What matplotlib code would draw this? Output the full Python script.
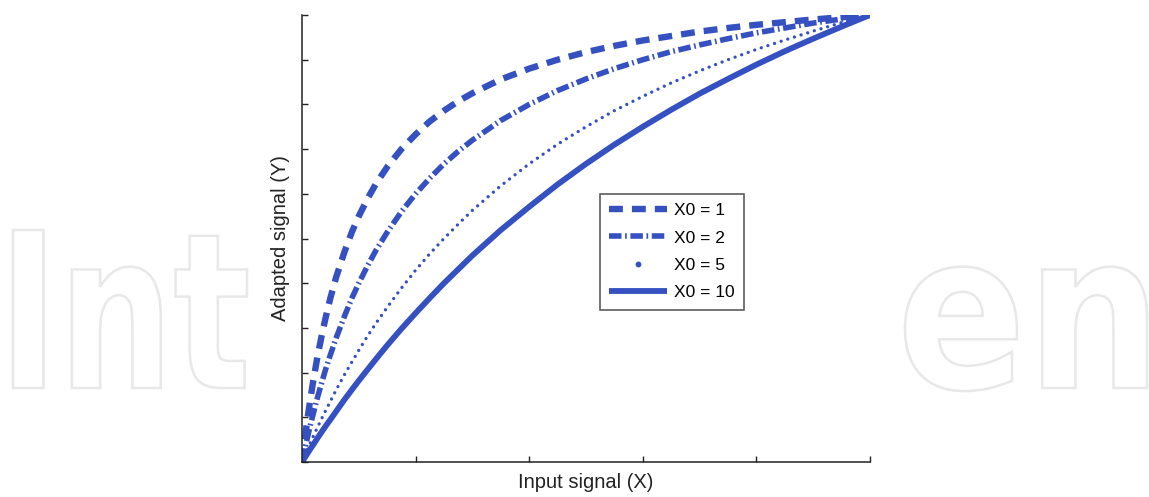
import matplotlib
matplotlib.use("Agg")
import matplotlib.pyplot as plt
from matplotlib.textpath import TextPath
from matplotlib.patches import PathPatch
from matplotlib.font_manager import FontProperties
from matplotlib.transforms import Affine2D
from matplotlib.lines import Line2D

plt.rcParams['font.family'] = ['Liberation Sans', 'DejaVu Sans']
plt.rcParams['lines.scale_dashes'] = False

# Values (X axis 0..10, Y normalised 0..1)
x_vals = [0, 0.03, 0.06, 0.1, 0.15, 0.2, 0.27, 0.35, 0.42, 0.5, 0.6, 0.75, 0.88, 1, 1.15,
          1.3, 1.5, 1.75, 2, 2.25, 2.5, 2.75, 3, 3.5, 4, 4.5, 5, 5.5, 6, 6.5, 7, 7.5, 8, 8.5,
          9, 9.5, 10]
y_x0_1 = [0, 0.032, 0.062, 0.100, 0.143, 0.183, 0.234, 0.285, 0.325, 0.367, 0.413, 0.471,
          0.515, 0.550, 0.588, 0.622, 0.660, 0.700, 0.733, 0.762, 0.786, 0.807, 0.825, 0.856,
          0.880, 0.900, 0.917, 0.931, 0.943, 0.953, 0.963, 0.971, 0.978, 0.984, 0.990, 0.995, 1.0]
y_x0_2 = [0, 0.018, 0.035, 0.057, 0.084, 0.109, 0.143, 0.179, 0.209, 0.240, 0.277, 0.327,
          0.367, 0.400, 0.438, 0.473, 0.514, 0.560, 0.600, 0.635, 0.667, 0.695, 0.720, 0.764,
          0.800, 0.831, 0.857, 0.880, 0.900, 0.918, 0.933, 0.947, 0.960, 0.971, 0.982, 0.991, 1.0]
y_x0_5 = [0, 0.009, 0.018, 0.029, 0.044, 0.058, 0.077, 0.098, 0.116, 0.136, 0.161, 0.196,
          0.224, 0.250, 0.281, 0.310, 0.346, 0.389, 0.429, 0.466, 0.500, 0.532, 0.563, 0.618,
          0.667, 0.711, 0.750, 0.786, 0.818, 0.848, 0.875, 0.900, 0.923, 0.944, 0.964, 0.983, 1.0]
y_x0_10 = [0, 0.006, 0.012, 0.020, 0.030, 0.039, 0.053, 0.068, 0.081, 0.095, 0.113, 0.140,
           0.162, 0.182, 0.206, 0.230, 0.261, 0.298, 0.333, 0.367, 0.400, 0.431, 0.462, 0.519,
           0.571, 0.621, 0.667, 0.710, 0.750, 0.788, 0.824, 0.857, 0.889, 0.919, 0.947, 0.974, 1.0]
labels = ["X0 = 1", "X0 = 2", "X0 = 5", "X0 = 10"]
watermark_left = "Int"
watermark_right = "en"

W, H = 1149, 497
fig = plt.figure(figsize=(W / 100, H / 100), dpi=100)
fig.patch.set_facecolor('white')

# Watermark outline text behind the chart
fp = FontProperties(family='DejaVu Sans', weight='bold')
wm_col = '#e8e8e8'
tp1 = TextPath((0, 0), watermark_left, size=1, prop=fp)
ext1 = tp1.get_extents()
sy = (158 / H) / ext1.y1
sx1 = (234 / W) / ext1.width
base = (H - 388) / H
t1 = Affine2D().translate(-ext1.x0, 0).scale(sx1, sy).translate(13 / W, base) + fig.transFigure
fig.add_artist(PathPatch(tp1, transform=t1, facecolor='white', edgecolor=wm_col, lw=1.8, zorder=0))
tp2 = TextPath((0, 0), watermark_right, size=1, prop=fp)
ext2 = tp2.get_extents()
sx2 = (242 / W) / ext2.width
t2 = Affine2D().translate(-ext2.x1, 0).scale(sx2, sy).translate(1147 / W, base) + fig.transFigure
fig.add_artist(PathPatch(tp2, transform=t2, facecolor='white', edgecolor=wm_col, lw=1.8, zorder=0))

ax = fig.add_axes([302 / W, 35 / H, 568 / W, 447 / H])
ax.set_facecolor('none')
color = '#3550c0'

l1, = ax.plot(x_vals, y_x0_1, color=color, lw=4.6, dashes=(10, 6.5), label=labels[0])
l2, = ax.plot(x_vals, y_x0_2, color=color, lw=4.0, dashes=(9, 2.6, 1.2, 2.6), label=labels[1])
l3, = ax.plot(x_vals, y_x0_5, color=color, lw=2.4, dashes=(0.01, 5), dash_capstyle='round',
              label=labels[2])
l4, = ax.plot(x_vals, y_x0_10, color=color, lw=4.2, solid_capstyle='butt', label=labels[3])

ax.set_xlim(0, 10)
ax.set_ylim(0, 1)
ax.set_xticks([0, 2, 4, 6, 8, 10])
ax.set_yticks([i / 10 for i in range(11)])
ax.tick_params(direction='in', length=4, width=1, colors='#222222',
               labelbottom=False, labelleft=False)
for s in ['top', 'right']:
    ax.spines[s].set_visible(False)
for s in ['left', 'bottom']:
    ax.spines[s].set_color('#222222')
    ax.spines[s].set_linewidth(1.1)

ax.set_xlabel("Input signal (X)", fontsize=14.5, labelpad=8, color='#222222')
ax.set_ylabel("Adapted signal (Y)", fontsize=14.5, labelpad=9, color='#222222')

dot_proxy = Line2D([], [], color=color, marker='o', markersize=3.2, linestyle='none')
leg = ax.legend([l1, l2, dot_proxy, l4], labels, loc='upper left',
                bbox_to_anchor=(0.509, 0.62), fontsize=12.5,
                frameon=True, fancybox=False, handlelength=3.3, handletextpad=0.4,
                borderpad=0.55, labelspacing=0.7, numpoints=1)
leg.get_frame().set_edgecolor('#333333')
leg.get_frame().set_linewidth(1.2)

fig.savefig("out.png", dpi=100, facecolor='white')
